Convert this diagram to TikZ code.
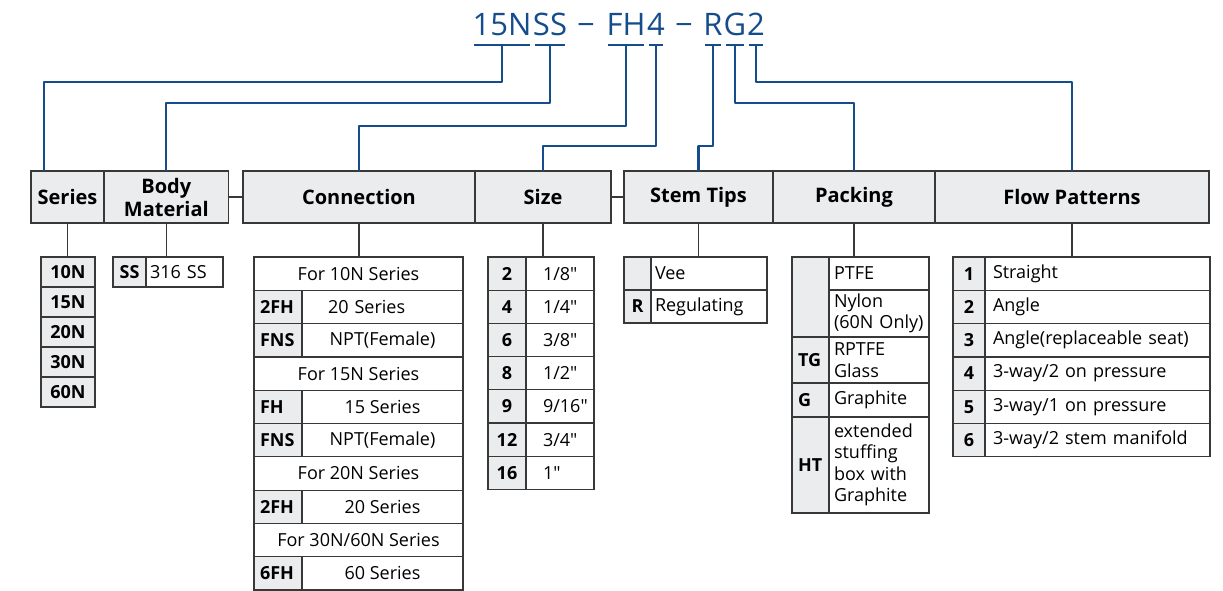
\documentclass[tikz,border=0pt]{standalone}
\usepackage{fontspec}
\setmainfont{Open Sans}[Ligatures=TeXOff]
\usetikzlibrary{calc}
\definecolor{partblue}{HTML}{154C8B}
\definecolor{cellgray}{HTML}{EBECED}
\definecolor{rulegray}{HTML}{383838}
\newcommand{\cellfont}{\fontsize{18}{21.5}\selectfont}
\tikzset{
  partno/.style={text=partblue, font=\fontsize{31}{36}\selectfont, inner sep=0, anchor=base},
  codeline/.style={draw=partblue, line width=2.2pt, line join=round},
  hdr/.style={draw=rulegray, fill=cellgray, line width=1.3pt, anchor=north west, minimum height=52, inner sep=0, outer sep=0, align=center, font=\fontsize{20}{23}\selectfont\bfseries},
  keycell/.style={draw=rulegray, fill=cellgray, line width=1.2pt, anchor=north west, inner sep=0, outer sep=0, font=\cellfont\bfseries},
  valcell/.style={draw=rulegray, fill=white, line width=1.2pt, anchor=north west, inner sep=0, outer sep=0, font=\cellfont},
  keyleft/.style args={#1/#2}{keycell, align=left, text width=#1, inner xsep=#2},
  valleft/.style args={#1/#2}{valcell, align=left, text width=#1, inner xsep=#2},
  stub/.style={draw=rulegray, line width=1.2pt},
}

\begin{document}
\begin{tikzpicture}[x=1pt,y=-1pt]
    \useasboundingbox (0,0) rectangle (1223,590);
    % part number
    \node[partno] (pSer) at (502,35) {15N};
    \node[partno] (pBody) at (550,35) {SS};
    \node[partno] (dashA) at (586,35) {−};
    \node[partno] (pConn) at (626,35) {FH};
    \node[partno] (pSize) at (656,35) {4};
    \node[partno] (dashB) at (684,35) {−};
    \node[partno] (pStem) at (713,35) {R};
    \node[partno] (pPack) at (735,35) {G};
    \node[partno] (pFlow) at (756,35) {2};
    % header row
    \node[hdr, minimum width=73] (hSer) at (31,171) {Series};
    \node[hdr, minimum width=124.6] (hBody) at (104,171) {Body\\Material};
    \node[hdr, minimum width=232] (hConn) at (243,171) {Connection};
    \node[hdr, minimum width=136] (hSize) at (475,171) {Size};
    \node[hdr, minimum width=149] (hStem) at (624,171) {Stem Tips};
    \node[hdr, minimum width=162] (hPack) at (773,171) {Packing};
    \node[hdr, minimum width=274] (hFlow) at (935,171) {Flow Patterns};
    \draw[stub] (hBody.east) -- (hConn.west);
    \draw[stub] (hSize.east) -- (hStem.west);
    % series
    \foreach \s [count=\i from 0] in {10N,15N,20N,30N,60N}
        \node[keycell, minimum width=54, minimum height=30] (ser\i) at (41,257+30*\i) {\s};
    % body material
    \node[keycell, minimum width=33, minimum height=30] (bodyK) at (113,257) {SS};
    \node[valleft=69/4, minimum height=30] (bodyV) at (146,257) {316 SS};
    % connection
    \node[valcell, minimum width=209, minimum height=33.3] (con0) at (254,257) {For 10N Series};
    \node[keyleft=36/6, minimum height=33.3] (conK1) at (254,290.3) {2FH};
    \node[valleft=109/26, minimum height=33.3] (conV1) at (302,290.3) {20 Series};
    \node[keyleft=36/6, minimum height=33.3] (conK2) at (254,323.6) {FNS};
    \node[valcell, minimum width=161, minimum height=33.3] (conV2) at (302,323.6) {NPT(Female)};
    \node[valcell, minimum width=209, minimum height=33.3] (con3) at (254,356.9) {For 15N Series};
    \node[keyleft=36/6, minimum height=33.3] (conK4) at (254,390.2) {FH};
    \node[valcell, minimum width=161, minimum height=33.3] (conV4) at (302,390.2) {15 Series};
    \node[keyleft=36/6, minimum height=33.3] (conK5) at (254,423.5) {FNS};
    \node[valcell, minimum width=161, minimum height=33.3] (conV5) at (302,423.5) {NPT(Female)};
    \node[valcell, minimum width=209, minimum height=33.3] (con6) at (254,456.8) {For 20N Series};
    \node[keyleft=36/6, minimum height=33.3] (conK7) at (254,490.1) {2FH};
    \node[valcell, minimum width=161, minimum height=33.3] (conV7) at (302,490.1) {20 Series};
    \node[valcell, minimum width=209, minimum height=33.3] (con8) at (254,523.4) {For 30N/60N Series};
    \node[keyleft=36/6, minimum height=33.3] (conK9) at (254,556.7) {6FH};
    \node[valcell, minimum width=161, minimum height=33.3] (conV9) at (302,556.7) {60 Series};
    % size
    \foreach \k/\v [count=\i from 0] in {2/{1/8"},4/{1/4"},6/{3/8"},8/{1/2"},9/{9/16"},12/{3/4"},16/{1"}}{
        \node[keycell, minimum width=38, minimum height=33.2] (sizK\i) at (488,257+33.2*\i) {\k};
        \node[valleft=34/17, minimum height=33.2] (sizV\i) at (526,257+33.2*\i) {\v};
    }
    % stem tips
    \node[keycell, minimum width=27, minimum height=33] (stmK0) at (624,257) {};
    \node[valleft=108/4, minimum height=33] (stmV0) at (651,257) {Vee};
    \node[keycell, minimum width=27, minimum height=33] (stmK1) at (624,290) {R};
    \node[valleft=108/4, minimum height=33] (stmV1) at (651,290) {Regulating};
    % packing
    \node[keycell, minimum width=37, minimum height=80] (pakK0) at (792,257) {};
    \node[valleft=90/5, minimum height=33] (pakV0) at (829,257) {PTFE};
    \node[valleft=90/5, minimum height=47] (pakV1) at (829,290) {Nylon\\\mbox{(60N Only)}};
    \node[keyleft=25/6, minimum height=46] (pakK2) at (792,337) {TG};
    \node[valleft=90/5, minimum height=46] (pakV2) at (829,337) {RPTFE\\Glass};
    \node[keyleft=25/6, minimum height=34] (pakK3) at (792,383) {G};
    \node[valleft=90/5, minimum height=34] (pakV3) at (829,383) {Graphite};
    \node[keyleft=25/6, minimum height=96] (pakK4) at (792,417) {HT};
    \node[valleft=90/5, minimum height=96] (pakV4) at (829,417) {extended\\stuffing\\box with\\Graphite};
    % flow patterns
    \foreach \v [count=\i from 1] in {Straight,Angle,Angle(replaceable seat),3-way/2 on pressure,3-way/1 on pressure,3-way/2 stem manifold}{
        \node[keycell, minimum width=32, minimum height=33.3] (flwK\i) at (953,257+33.3*\i-33.3) {\i};
        \node[valleft=209/8, minimum height=33.3] (flwV\i) at (985,257+33.3*\i-33.3) {\v};
    }
    % stubs under the header
    \draw[stub] (hSer.south) -- (hSer.south |- ser0.north);
    \draw[stub] (hBody.south) -- (hBody.south |- bodyK.north);
    \draw[stub] (hConn.south) -- (hConn.south |- con0.north);
    \draw[stub] (hSize.south) -- (hSize.south |- sizK0.north);
    \draw[stub] (hStem.south) -- (hStem.south |- stmK0.north);
    \draw[stub] (hPack.south) -- (hPack.south |- pakK0.north);
    \draw[stub] (hFlow.south) -- (hFlow.south |- flwK1.north);
    % code lines
    \foreach \p in {pSer,pBody,pConn,pSize,pStem,pPack,pFlow}
        \draw[codeline] ($(\p.base west)+(2,10)$) -- ($(\p.base east)+(-2,10)$);
    \draw[codeline] ($(pSer.base)+(0,10)$) -- ++(0,37) -| ([xshift=-23.5]hSer.north);
    \draw[codeline] ($(pBody.base)+(0,10)$) -- ++(0,58) -| (hBody.north);
    \draw[codeline] ($(pConn.base)+(0,10)$) -- ++(0,81) -| (hConn.north);
    \draw[codeline] ($(pSize.base)+(0,10)$) -- ++(0,101) -| (hSize.north);
    \draw[codeline] ($(pStem.base)+(0,10)$) -- ++(0,101) -| (hStem.north);
    \draw[codeline] ($(pPack.base)+(0,10)$) -- ++(0,58) -| (hPack.north);
    \draw[codeline] ($(pFlow.base)+(0,10)$) -- ++(0,37) -| (hFlow.north);
\end{tikzpicture}
\end{document}
